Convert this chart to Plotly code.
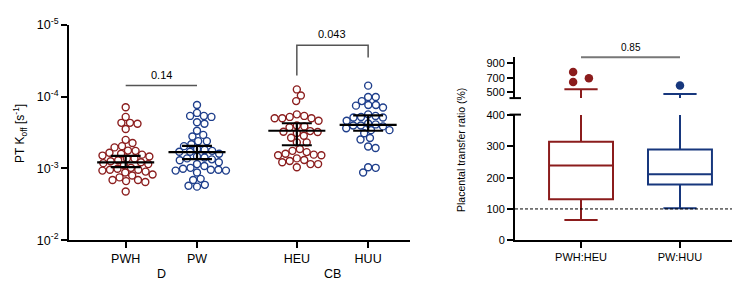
import math
import numpy as np
import plotly.graph_objects as go

# ---------------- data ----------------
groups = ["PWH", "PW", "HEU", "HUU"]
group_pos = [0.0, 1.0, 2.4, 3.4]
group_labels = ["D", "CB"]

pwh_koff = [1.40e-4, 1.91e-4, 2.31e-4, 2.31e-4, 2.38e-4, 2.81e-4, 3.99e-4, 4.42e-4, 4.88e-4, 5.08e-4,
            5.63e-4, 5.68e-4, 6.03e-4, 6.22e-4, 6.41e-4, 6.61e-4, 6.81e-4, 7.23e-4, 7.23e-4, 7.69e-4,
            7.92e-4, 8.17e-4, 8.42e-4, 8.68e-4, 8.94e-4, 9.79e-4, 1.01e-3, 1.04e-3, 1.04e-3, 1.07e-3,
            1.105e-3, 1.14e-3, 1.21e-3, 1.25e-3, 1.33e-3, 1.45e-3, 1.45e-3, 1.50e-3, 1.54e-3, 2.09e-3]
pw_koff = [1.30e-4, 1.68e-4, 1.85e-4, 1.85e-4, 1.91e-4, 2.27e-4, 2.38e-4, 2.98e-4, 3.40e-4, 3.58e-4,
           4.16e-4, 4.16e-4, 4.60e-4, 4.88e-4, 5.35e-4, 5.51e-4, 5.68e-4, 5.85e-4, 5.85e-4, 6.22e-4,
           6.81e-4, 7.02e-4, 7.23e-4, 7.46e-4, 7.69e-4, 8.17e-4, 8.68e-4, 9.22e-4, 9.79e-4, 1.01e-3,
           1.04e-3, 1.04e-3, 1.07e-3, 1.07e-3, 1.14e-3, 1.395e-3, 1.45e-3, 1.69e-3, 1.74e-3, 1.79e-3]
heu_koff = [0.79e-4, 0.96e-4, 1.15e-4, 1.76e-4, 1.85e-4, 1.91e-4, 1.99e-4, 1.99e-4, 1.99e-4, 2.16e-4,
            2.51e-4, 2.59e-4, 2.67e-4, 3.01e-4, 3.07e-4, 3.10e-4, 3.20e-4, 3.50e-4, 3.72e-4, 4.33e-4,
            4.33e-4, 5.35e-4, 5.68e-4, 5.91e-4, 6.22e-4, 6.41e-4, 6.55e-4, 6.55e-4, 7.23e-4, 7.62e-4,
            7.85e-4, 8.17e-4, 8.68e-4, 8.68e-4, 9.59e-4]
huu_koff = [0.70e-4, 1.01e-4, 1.01e-4, 1.15e-4, 1.30e-4, 1.30e-4, 1.33e-4, 1.41e-4, 1.76e-4, 1.85e-4,
            1.91e-4, 1.95e-4, 1.95e-4, 2.16e-4, 2.36e-4, 2.43e-4, 2.51e-4, 2.51e-4, 2.59e-4, 2.75e-4,
            2.92e-4, 2.92e-4, 3.23e-4, 3.75e-4, 3.95e-4, 4.93e-4, 5.19e-4, 9.59e-4, 9.79e-4, 1.14e-3]
koff_center = [8.24e-4, 5.90e-4, 2.98e-4, 2.46e-4]
koff_ci_low = [6.67e-4, 4.84e-4, 2.34e-4, 1.82e-4]
koff_ci_high = [9.59e-4, 7.39e-4, 4.74e-4, 2.98e-4]
koff_pvals = ["0.14", "0.043"]

box_cats = ["PWH:HEU", "PW:HUU"]
box_q1 = [131, 178]
box_median = [239, 211]
box_q3 = [315, 290]
box_low = [65, 102]
box_high = [535, 468]
box_outliers = [[640, 690, 780], [588]]
box_pval = "0.85"
ratio_ref = 100

# ---------------- style / geometry ----------------
W, H = 740, 281
RED = "#8c1f1f"
BLUE = "#1f3f8c"
RED_BOX = "#8b1c1c"
BLUE_BOX = "#17377d"
colors = [RED, BLUE, RED, BLUE]
FONT = "Liberation Sans, Arial, sans-serif"


def px_x(x):
    return x / W


def px_y(y):
    return 1 - y / H


# left panel
xl_dom = [px_x(61), px_x(402)]
yl_dom = [px_y(236.7), px_y(8.5)]
xl_range = [-0.795, 3.987]
yl_range = [-2, -5]
# right panel
xr_dom = [px_x(507), px_x(738)]
yr_dom = [px_y(236.7), px_y(104)]
yu_dom = [px_y(86), px_y(42.7)]
xr_range = [-0.667, 1.667]
yr_range = [0, 400]
yu_range = [411, 988]

left_w_px = (xl_dom[1] - xl_dom[0]) * W
left_h_px = (yl_dom[1] - yl_dom[0]) * H
x_per_px = (xl_range[1] - xl_range[0]) / left_w_px


def swarm(vals_px, d):
    n = len(vals_px)
    xs = np.zeros(n)
    placed = []
    for i in np.argsort(vals_px):
        y = vals_px[i]
        near = [(px, py) for px, py in placed if abs(py - y) < d]
        cands = [0.0]
        for px, py in near:
            dx = math.sqrt(d * d - (py - y) ** 2)
            cands += [px + dx, px - dx]
        cands.sort(key=lambda c: (abs(c), -c))
        for c in cands:
            if all((c - px) ** 2 + (y - py) ** 2 >= d * d - 1e-6 for px, py in near):
                xs[i] = c
                placed.append((c, y))
                break
    return xs


fig = go.Figure()

all_vals = [pwh_koff, pw_koff, heu_koff, huu_koff]
for gi, vals in enumerate(all_vals):
    lv = np.log10(np.array(vals))
    ypx = (lv - yl_range[1]) / (yl_range[0] - yl_range[1]) * left_h_px
    offs = swarm(ypx, 7.6) * x_per_px
    fig.add_trace(go.Scatter(
        x=group_pos[gi] + offs, y=vals, mode="markers",
        marker=dict(symbol="circle-open", size=7, color=colors[gi], line=dict(width=1.4, color=colors[gi])),
        xaxis="x", yaxis="y", showlegend=False, hoverinfo="y"))

# median + CI bars
ex, ey = [], []
for gi in range(4):
    c = group_pos[gi]
    ex += [c - 0.40, c + 0.40, None, c - 0.21, c + 0.21, None, c - 0.21, c + 0.21, None, c, c, None]
    ey += [koff_center[gi]] * 2 + [None] + [koff_ci_low[gi]] * 2 + [None] + [koff_ci_high[gi]] * 2 + [None] \
        + [koff_ci_low[gi], koff_ci_high[gi], None]
fig.add_trace(go.Scatter(x=ex, y=ey, mode="lines", line=dict(color="black", width=2.2),
                         xaxis="x", yaxis="y", showlegend=False, hoverinfo="skip"))

# boxes (drawn on both segments of the broken axis)
box_colors = [RED_BOX, BLUE_BOX]
for yax in ["y2", "y3"]:
    for bi in range(2):
        fig.add_trace(go.Box(
            x=[bi], q1=[box_q1[bi]], median=[box_median[bi]], q3=[box_q3[bi]],
            lowerfence=[box_low[bi]], upperfence=[box_high[bi]],
            width=0.646, whiskerwidth=0.52, boxpoints=False,
            line=dict(color=box_colors[bi], width=2), fillcolor="rgba(255,255,255,0)",
            xaxis="x2", yaxis=yax, showlegend=False, hoverinfo="skip"))

# outliers
r_w_px = (xr_dom[1] - xr_dom[0]) * W
xr_per_px = (xr_range[1] - xr_range[0]) / r_w_px
u_h_px = (yu_dom[1] - yu_dom[0]) * H
for bi in range(2):
    v = np.array(box_outliers[bi], dtype=float)
    ypx = (v - yu_range[0]) / (yu_range[1] - yu_range[0]) * u_h_px
    offs = swarm(ypx, 10.0)
    offs = (offs - (offs.max() + offs.min()) / 2) * xr_per_px
    fig.add_trace(go.Scatter(x=bi + offs * 1.7, y=v, mode="markers",
                             marker=dict(size=8.5, color=box_colors[bi]),
                             xaxis="x2", yaxis="y3", showlegend=False, hoverinfo="y"))

shapes = []
annotations = []
GRAY = "#555555"


def note(x, y, text, size, xref="paper", yref="paper", angle=0, yanchor="middle"):
    annotations.append(dict(x=x, y=y, xref=xref, yref=yref, text=text, showarrow=False,
                            xanchor="center", yanchor=yanchor, textangle=angle, borderpad=0,
                            font=dict(size=size, color="black", family=FONT)))


# 0.14 line
shapes.append(dict(type="line", xref="x", yref="paper", x0=group_pos[0], x1=group_pos[1],
                   y0=px_y(72.7), y1=px_y(72.7), line=dict(color=GRAY, width=1.5)))
note((group_pos[0] + group_pos[1]) / 2, px_y(62), koff_pvals[0], 11, xref="x")
# 0.043 bracket
shapes.append(dict(type="path", xref="x", yref="paper",
                   path=f"M {group_pos[2]},{px_y(62)} L {group_pos[2]},{px_y(30)} L {group_pos[3]},{px_y(30)} L {group_pos[3]},{px_y(43)}",
                   line=dict(color=GRAY, width=1.5)))
note((group_pos[2] + group_pos[3]) / 2, px_y(17.5), koff_pvals[1], 11, xref="x")
# group labels
note((group_pos[0] + group_pos[1]) / 2, px_y(281), group_labels[0], 12.5, xref="x", yanchor="bottom")
note((group_pos[2] + group_pos[3]) / 2, px_y(281), group_labels[1], 12.5, xref="x", yanchor="bottom")
# y titles
note(px_x(12), px_y(124), "PT K<sub>off</sub> [s<sup>-1</sup>]", 12, angle=-90)
note(px_x(453), px_y(141), "Placental transfer ratio (%)", 10.5, angle=-90)
# right panel: p value line
shapes.append(dict(type="line", xref="x2", yref="paper", x0=0, x1=1, y0=px_y(42.7), y1=px_y(42.7),
                   line=dict(color="#777777", width=1.8)))
note(0.5, px_y(32.5), box_pval, 10, xref="x2")
# reference dashed line
shapes.append(dict(type="line", xref="paper", yref="y2", x0=xr_dom[0], x1=xr_dom[1],
                   y0=ratio_ref, y1=ratio_ref, line=dict(color="black", width=1, dash="3px,2px")))
# axis break caps
for yy in [86, 103.5]:
    shapes.append(dict(type="line", xref="paper", yref="paper", x0=px_x(501.5), x1=px_x(513),
                       y0=px_y(yy), y1=px_y(yy), line=dict(color="black", width=2)))

axis_common = dict(showline=True, linecolor="black", linewidth=2, ticks="outside", tickwidth=2,
                   tickcolor="black", ticklen=6, showgrid=False, zeroline=False,
                   tickfont=dict(family=FONT, size=12.5, color="black"))
small_ticks = {**axis_common, "tickfont": dict(family=FONT, size=11, color="black")}

fig.update_layout(
    width=W, height=H, margin=dict(l=0, r=0, t=0, b=0),
    paper_bgcolor="white", plot_bgcolor="white",
    font=dict(family=FONT, color="black"),
    xaxis=dict(domain=xl_dom, range=xl_range, anchor="y", tickvals=group_pos, ticktext=groups, **axis_common),
    yaxis=dict(domain=yl_dom, type="log", range=yl_range, anchor="x",
               tickvals=[1e-5, 1e-4, 1e-3, 1e-2],
               ticktext=["10<sup>-5</sup>", "10<sup>-4</sup>", "10<sup>-3</sup>", "10<sup>-2</sup>"],
               **axis_common),
    xaxis2=dict(domain=xr_dom, range=xr_range, anchor="y2", tickvals=[0, 1], ticktext=box_cats, **small_ticks),
    yaxis2=dict(domain=yr_dom, range=yr_range, anchor="x2", tickvals=[0, 100, 200, 300, 400], **small_ticks),
    yaxis3=dict(domain=yu_dom, range=yu_range, anchor="x2", tickvals=[500, 700, 900], **small_ticks),
    shapes=shapes, annotations=annotations,
)

fig.write_html("out.html")
